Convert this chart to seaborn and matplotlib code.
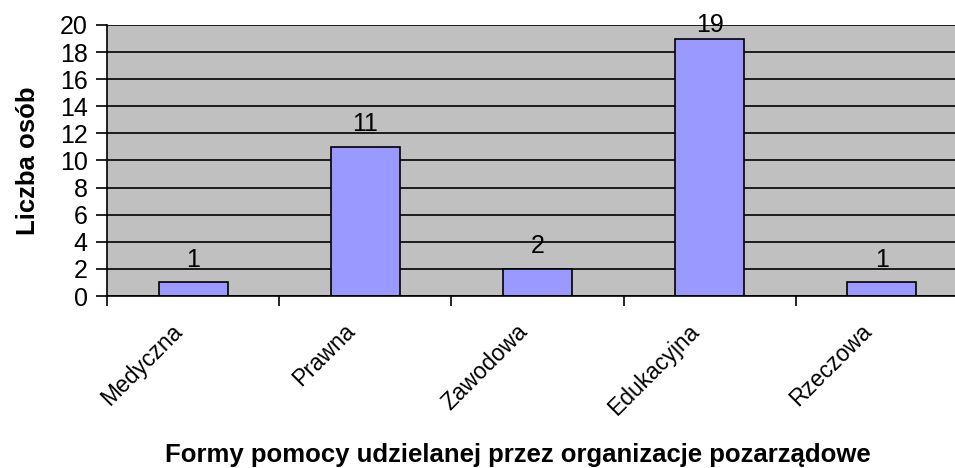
import numpy as np
import pandas as pd
import matplotlib
matplotlib.use("Agg")
import matplotlib.pyplot as plt
import matplotlib.transforms as mtransforms
import seaborn as sns

# ── data ─────────────────────────────────────────────
categories = ["Medyczna", "Prawna", "Zawodowa", "Edukacyjna", "Rzeczowa"]
counts = [1, 11, 2, 19, 1]
y_ticks = [0, 2, 4, 6, 8, 10, 12, 14, 16, 18, 20]

df = pd.DataFrame({"forma": categories, "liczba": counts})

sns.set_style("white")
plt.rcParams["font.family"] = ["Liberation Sans", "DejaVu Sans"]
plt.rcParams["text.color"] = "black"
plt.rcParams["axes.labelcolor"] = "black"
plt.rcParams["xtick.color"] = "black"
plt.rcParams["ytick.color"] = "black"

fig = plt.figure(figsize=(9.55, 4.68), dpi=100)
ax = fig.add_axes([107 / 955, (468 - 296) / 468, 861 / 955, 271 / 468])
ax.set_facecolor("#C0C0C0")

sns.barplot(data=df, x="forma", y="liczba", ax=ax, color="#9999FF",
            saturation=1, width=0.4, edgecolor="black", linewidth=1.2)

ax.set_ylim(0, 20)
ax.set_xlim(-0.5, len(categories) - 0.5)
ax.set_yticks(y_ticks)
ax.yaxis.grid(True, color="black", linewidth=1.2)
ax.set_axisbelow(True)

for s in ["top", "right", "bottom"]:
    ax.spines[s].set_visible(False)
ax.spines["left"].set_color("black")
ax.spines["left"].set_linewidth(1.2)

# value labels
for i, v in enumerate(counts):
    ax.text(i, min(v + 0.8, 19.1), str(v), ha="center", va="bottom",
            fontsize=18, color="black", clip_on=False)

ax.tick_params(axis="y", direction="out", length=8, width=1.2, color="black",
               labelsize=18, labelcolor="black", pad=6, left=True)
ax.set_xticks(range(len(categories)))
ax.set_xticklabels(categories, rotation=45, ha="right", rotation_mode="anchor",
                   fontsize=16.5, color="black")
ax.tick_params(axis="x", which="major", length=0, pad=17)
shift = mtransforms.ScaledTranslation(-22 / 100, 0, fig.dpi_scale_trans)
for lbl in ax.get_xticklabels():
    lbl.set_transform(lbl.get_transform() + shift)
ax.set_xticks(np.arange(-0.5, len(categories), 1), minor=True)
ax.tick_params(axis="x", which="minor", direction="out", length=7, width=1.2,
               color="black", bottom=True)
ax.axhline(0, color="black", linewidth=1.2, clip_on=False)

ax.set_xlabel("Formy pomocy udzielanej przez organizacje pozarządowe",
              fontsize=18.5, fontweight="bold", color="black")
ax.set_ylabel("Liczba osób", fontsize=18.5, fontweight="bold", color="black")
ax.xaxis.set_label_coords((518 - 107) / 861, -(443 - 296) / 271)
ax.yaxis.set_label_coords(-(107 - 28) / 861, 0.5)
ax.yaxis.label.set_va("center")

fig.savefig("out.png", dpi=100)
